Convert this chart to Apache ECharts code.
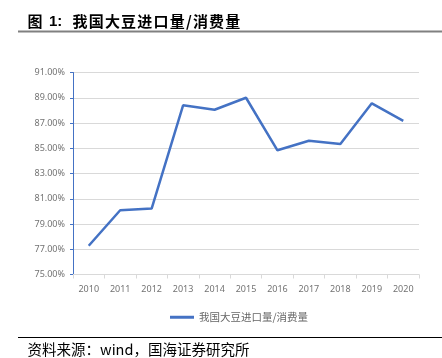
<!DOCTYPE html>
<html><head><meta charset="utf-8">
<script src="https://cdn.jsdelivr.net/npm/echarts@6/dist/echarts.min.js"></script>
<style>html,body{margin:0;padding:0;background:#fff;}#c{width:442px;height:358px;}</style>
</head><body><div id="c"></div>
<script>
const categories = ['2010','2011','2012','2013','2014','2015','2016','2017','2018','2019','2020'];
const ratioValues = [77.28, 80.09, 80.22, 88.40, 88.05, 89.00, 84.84, 85.59, 85.33, 88.56, 87.17];
const seriesName = '我国大豆进口量/消费量';
const titleText = '我国大豆进口量/消费量';

// title characters laid out with letter spacing
const titleGraphics = [];
let tx = 72.5;
for (const ch of titleText) {
  titleGraphics.push({type:'text', x:tx, y:21.5, style:{text:ch, font:'bold 15px "Noto Sans CJK SC"', fill:'#000', textVerticalAlign:'middle'}});
  tx += (ch === '/') ? 7 : 16.2;
}

const chart = echarts.init(document.getElementById('c'), null, {renderer:'canvas'});
chart.setOption({
  animation:false,
  graphic:[
    {type:'text', x:27.5, y:21.5, style:{text:'图', font:'bold 15px "Noto Sans CJK SC"', fill:'#000', textVerticalAlign:'middle'}},
    {type:'text', x:49, y:21.5, style:{text:'1:', font:'bold 15px "Liberation Sans"', fill:'#000', textVerticalAlign:'middle'}},
    ...titleGraphics,
    {type:'line', shape:{x1:18,y1:31.5,x2:442,y2:31.5}, style:{stroke:'#808080', lineWidth:2}},
    {type:'line', shape:{x1:18,y1:337.5,x2:442,y2:337.5}, style:{stroke:'#000', lineWidth:1}},
    {type:'text', x:27.5, y:349.5, style:{text:'资料来源：wind，国海证券研究所', font:'14.5px "Noto Sans CJK SC"', fill:'#000', textVerticalAlign:'middle'}}
  ],
  grid:{left:73, right:23, top:72.5, bottom:83.5, containLabel:false},
  legend:{data:[seriesName], top:307, left:165, itemWidth:24, itemHeight:3, icon:'rect',
    textStyle:{color:'#666', fontSize:10.5, fontFamily:'"Noto Sans CJK SC"'}},
  xAxis:{type:'category', data:categories, boundaryGap:true,
    axisLine:{lineStyle:{color:'#d9d9d9'}},
    axisTick:{show:true, lineStyle:{color:'#d9d9d9'}, length:4},
    axisLabel:{color:'#737373', fontSize:9, margin:10, fontFamily:'"Noto Sans", sans-serif'}},
  yAxis:{type:'value', min:75, max:91, interval:2,
    axisLine:{show:true, lineStyle:{color:'#4472C4'}},
    axisTick:{show:true, length:3, lineStyle:{color:'#4472C4'}},
    splitLine:{lineStyle:{color:'#d9d9d9'}},
    axisLabel:{color:'#737373', fontSize:9, margin:8, fontFamily:'"Noto Sans", sans-serif',
      formatter:v=>v.toFixed(2)+'%'}},
  series:[{name:seriesName, type:'line', data:ratioValues, symbol:'none',
    lineStyle:{color:'#4472C4', width:2.5}, itemStyle:{color:'#4472C4'}}]
});
</script></body></html>
